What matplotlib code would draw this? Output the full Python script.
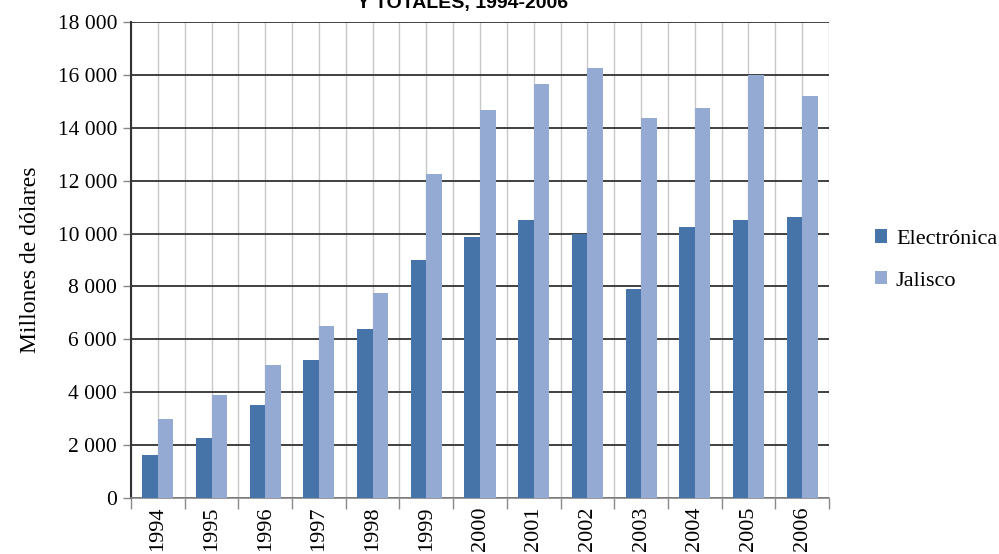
import numpy as np
import matplotlib.pyplot as plt
from matplotlib.ticker import FuncFormatter

years = ['1994', '1995', '1996', '1997', '1998', '1999', '2000',
         '2001', '2002', '2003', '2004', '2005', '2006']
electronica = [1630, 2270, 3520, 5220, 6390, 9000, 9870,
               10510, 9980, 7900, 10250, 10510, 10630]
jalisco = [2990, 3900, 5030, 6500, 7750, 12250, 14670,
           15660, 16260, 14370, 14750, 16000, 15200]

plt.rcParams['font.family'] = ['Liberation Serif', 'DejaVu Serif']

fig = plt.figure(figsize=(9.99, 5.54), dpi=100)
ax = fig.add_axes([131/999, 56/554, 698/999, 476/554])

x = np.arange(len(years))
w = 0.29
ax.bar(x - w/2, electronica, w, color='#4673A8', label='Electrónica', zorder=3)
ax.bar(x + w/2, jalisco, w, color='#95AAD2', label='Jalisco', zorder=3)

ax.set_xlim(-0.5, len(years) - 0.5)
ax.set_ylim(0, 18000)
ax.set_yticks(np.arange(0, 18001, 2000))
ax.yaxis.set_major_formatter(FuncFormatter(lambda v, p: f'{int(v):,}'.replace(',', ' ')))

# light vertical grid every half category
for v in np.arange(-0.5, len(years), 0.5):
    ax.axvline(v, color='#c8c8c8', lw=1, zorder=1)
ax.yaxis.grid(True, color='#404040', lw=1.4, zorder=2)

# category labels + ticks at boundaries
ax.set_xticks(x)
ax.set_xticklabels(years, rotation=90, fontsize=16)
ax.tick_params(axis='x', length=0, pad=6)
ax.set_xticks(np.arange(-0.5, len(years), 1), minor=True)
ax.tick_params(axis='x', which='minor', length=8, color='#888888', width=1)
ax.tick_params(axis='y', labelsize=15.5, length=6, color='#888888', width=1, pad=4)

for s in ['top', 'right']:
    ax.spines[s].set_visible(False)
ax.spines['left'].set_color('#333333')
ax.spines['left'].set_linewidth(1.5)
ax.spines['bottom'].set_color('#888888')
ax.spines['bottom'].set_linewidth(1.2)

ax.set_ylabel('Millones de dólares', fontsize=17, labelpad=12)

ax.legend(loc='center left', bbox_to_anchor=(1.037, 0.5), frameon=False,
          fontsize=16, handlelength=0.55, handleheight=0.55,
          handletextpad=0.4, labelspacing=1.0)

fig.text(463/999, 1 - 8/554, 'Y TOTALES, 1994-2006', ha='center', va='baseline',
         fontsize=14, fontweight='bold', family=['Liberation Sans', 'DejaVu Sans'])

fig.savefig('out.png', dpi=100)
